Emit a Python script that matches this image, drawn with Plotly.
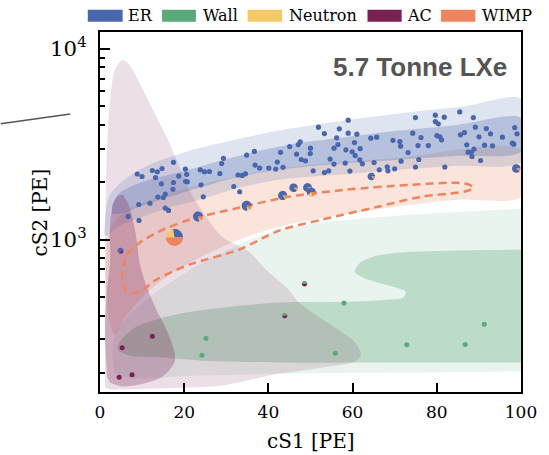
import math
import plotly.graph_objects as go

# ---------------- data ----------------
components = ["ER", "Wall", "Neutron", "AC", "WIMP"]
comp_colors = ["#4a67ad", "#5aa97a", "#f4c966", "#7a1f54", "#ee855e"]

# ER-like events
er_s1 = [6.67, 9.27, 9.20, 11.86, 8.84, 9.98, 12.43, 13.63, 14.74, 13.18, 14.58, 17.45, 17.33, 17.45,
         18.70, 20.28, 20.59, 20.35, 20.75, 15.50, 15.02, 13.75, 15.50, 16.27, 23.82, 24.83, 26.01,
         23.99, 24.53, 28.47, 28.89, 29.32, 31.77, 33.18, 32.78, 33.77, 34.55, 34.83, 36.67, 36.84,
         37.92, 40.09, 41.75, 42.12, 42.88, 43.47, 45.05, 46.70, 47.10, 47.57, 47.81, 48.82, 50.0,
         49.93, 50.64, 51.89, 53.30, 53.30, 54.32, 54.65, 55.59, 55.59, 56.20, 56.53, 56.84, 58.25,
         58.42, 58.96, 58.96, 59.36, 59.91, 60.45, 60.61, 61.01, 61.72, 61.79, 62.33, 64.32, 65.09,
         65.73, 66.34, 68.23, 68.40, 69.58, 69.98, 71.23, 71.39, 71.53, 73.18, 74.29, 74.93, 74.93,
         75.54, 75.71, 76.25, 77.99, 79.65, 79.65, 80.02, 80.35, 80.73, 81.13, 81.77, 81.91, 85.45,
         85.61, 86.56, 87.10, 87.43, 88.21, 88.37, 88.84, 88.68, 89.15, 90.02, 90.40, 91.34, 91.75,
         92.76, 93.23, 95.59, 97.95, 98.28, 98.51, 99.06]
er_s2 = [1324, 1262, 1530, 1553, 2211, 2145, 2306, 2270, 2362, 2117, 1965, 2546, 1838, 1995,
         2156, 2345, 2203, 2024, 2012, 1735, 1665, 1673, 1466, 1424, 2326, 2270, 2279,
         1941, 1679, 2224, 2506, 2672, 1901, 1784, 2184, 2174, 2216, 2777, 2902, 2461,
         2376, 2376, 2345, 2552, 2871, 2397, 3079, 2810, 3155, 3260, 2633, 2592, 3020,
         2830, 2298, 3892, 3602, 2251, 2298, 2646, 2491, 3020, 3420, 3155, 3813, 2521,
         2960, 4234, 3619, 2289, 2888, 3232, 2763, 3576, 2623, 3006, 2500, 3408, 2540,
         3449, 2326, 2411, 2298, 3319, 2354, 3271, 3094, 2582, 2865, 3619, 4368, 2402,
         3116, 2633, 3433, 3116, 4497, 4163, 3517, 4049, 3462, 3339, 4389, 2402, 4679,
         3546, 3646, 3144, 2878, 2878, 2731, 2985, 4368, 3892, 3462, 2602, 3132, 3826,
         3589, 3105, 3449, 3209, 3170, 3873, 3589]

# wall-like events
wall_s1 = [25.17, 24.22, 57.95, 55.90, 72.88, 86.72, 91.27]
wall_s2 = [303, 248, 466, 254, 281, 282, 360]

# AC-like events
ac_s1 = [5.26, 12.43, 4.55, 7.62]
ac_s2 = [271, 312, 190, 196]

# mixed events (pie charts): posterior fractions ER, Wall, Neutron, AC, WIMP
pie_s1 = [17.69, 23.28, 34.83, 43.40, 45.99, 49.29, 50.17, 64.46, 98.89, 4.88, 43.87, 48.58]
pie_s2 = [1028, 1324, 1507, 1706, 1872, 1878, 1777, 2145, 2362, 876, 400, 588]
pie_er      = [0.28, 0.80, 0.78, 0.85, 0.90, 0.82, 0.62, 0.88, 0.88, 0.72, 0.00, 0.00]
pie_wall    = [0.00, 0.00, 0.00, 0.00, 0.00, 0.00, 0.00, 0.00, 0.00, 0.00, 0.55, 0.50]
pie_neutron = [0.22, 0.06, 0.08, 0.05, 0.03, 0.08, 0.18, 0.02, 0.00, 0.00, 0.00, 0.00]
pie_ac      = [0.00, 0.00, 0.00, 0.00, 0.00, 0.00, 0.00, 0.00, 0.00, 0.28, 0.45, 0.50]
pie_wimp    = [0.50, 0.14, 0.14, 0.10, 0.07, 0.10, 0.20, 0.10, 0.12, 0.00, 0.00, 0.00]

# model contours (cS1, cS2)
er_2s_s1 = [0.94, 1.42, 2.36, 5.42, 9.43, 13.44, 21.23, 33.02, 44.81, 58.96, 74.06, 87.26, 100, 100,
            84.91, 70.75, 56.60, 42.45, 33.02, 23.58, 16.51, 9.43, 4.72, 1.89]
er_2s_s2 = [1062, 1436, 1720, 2036, 2326, 2561, 2924, 3379, 3813, 4249, 4679, 5030, 5472, 2561,
            2440, 2326, 2189, 2062, 1872, 1620, 1471, 1304, 1184, 1049]
er_1s_s1 = [2.83, 4.72, 7.78, 11.79, 16.51, 23.58, 33.02, 44.81, 58.96, 70.75, 84.91, 100, 100,
            84.91, 70.75, 56.60, 42.45, 33.02, 23.58, 16.51, 9.43, 4.72, 2.83]
er_1s_s2 = [1525, 1762, 1918, 2062, 2189, 2411, 2754, 3144, 3462, 3721, 4000, 4352, 2888,
            2754, 2623, 2500, 2326, 2138, 1872, 1679, 1489, 1368, 1368]
wimp_2s_s1 = [1.65, 2.83, 5.90, 11.79, 23.58, 42.45, 70.75, 100, 100, 84.91, 73.82, 58.96, 42.45,
              33.02, 23.58, 16.51, 10.61, 5.90, 3.54, 2.12, 1.42, 1.42]
wimp_2s_s2 = [942, 1198, 1402, 1620, 1941, 2354, 2688, 2960, 1679, 1620, 1525, 1368, 1170,
              1000, 805, 656, 515, 390, 318, 381, 547, 740]
wimp_1s_s1 = [5.4, 6.4, 9.4, 13.4, 21.2, 33.0, 44.8, 58.3, 73.8, 84.9, 87.7, 88.7, 87.3, 84.9,
              76.2, 66.0, 52.6, 42.5, 33.0, 21.2, 13.4, 9.4, 6.6, 5.4, 5.4]
wimp_1s_s2 = [697, 834, 964, 1088, 1273, 1471, 1679, 1827, 1941, 1988, 1941, 1872, 1805, 1762,
              1679, 1489, 1273, 1115, 886, 740, 618, 534, 528, 581, 697]
wall_2s_s1 = [100, 73.82, 54.25, 42.45, 33.02, 23.58, 14.15, 7.08, 3.54, 3.54, 7.08, 23.58, 47.17,
              70.75, 100]
wall_2s_s2 = [1453, 1352, 1242, 1128, 942, 740, 547, 405, 318, 204, 189, 194, 199, 201, 204]
wall_1s_s1 = [100, 82.55, 70.75, 64.86, 61.79, 60.61, 60.61, 63.68, 69.58, 72.64, 71.93, 68.40,
              58.25, 42.45, 23.58, 14.86, 8.25, 4.72, 4.25, 7.08, 14.86, 23.58, 42.45, 70.75, 100]
wall_1s_s2 = [886, 876, 855, 815, 758, 697, 672, 618, 567, 534, 497, 485, 473, 468, 425, 390, 346,
              292, 265, 247, 241, 233, 227, 227, 227]
ac_2s_s1 = [1.2, 1.2, 1.65, 2.4, 3.5, 4.7, 5.4, 6.6, 7.8, 9.4, 10.6, 13.4, 15.8, 18.2, 21.2, 25.2,
            29.0, 35.4, 39.4, 44.8, 47.2, 51.9, 56.6, 60.6, 62.0, 60.6, 54.2, 46.5, 42.5, 29.0, 13.4, 2.4]
ac_2s_s2 = [168, 886, 2960, 5408, 7766, 8550, 8758, 8447, 7766, 6637, 5884, 4405, 3462, 2623, 1827,
            1320, 1037, 865, 697, 547, 468, 395, 338, 289, 250, 230, 216, 204, 199, 172, 166, 164]
ac_1s_s1 = [1.65, 1.2, 1.65, 2.4, 2.4, 3.1, 4.0, 5.2, 6.6, 7.8, 8.7, 9.4, 11.1, 13.4, 15.8, 17.7,
            17.7, 14.9, 9.4, 5.4, 2.4]
ac_1s_s2 = [192, 338, 547, 758, 1198, 1525, 1679, 1720, 1562, 1273, 1000, 758, 567, 430, 338, 256,
            227, 192, 174, 170, 178]

x_ticks = [0, 20, 40, 60, 80, 100]
x_title = "cS1 [PE]"
y_title = "cS2 [PE]"
panel_label = "5.7 Tonne LXe"

# ---------------- styling ----------------
SERIF = "DejaVu Serif"
pie_radius_px = [8.5, 5, 5, 4.6, 4.3, 4.4, 4.6, 3.8, 4.3, 3.0, 2.7, 2.7]


def rgba(hexcol, a):
    h = hexcol.lstrip("#")
    r, g, b = int(h[0:2], 16), int(h[2:4], 16), int(h[4:6], 16)
    return f"rgba({r},{g},{b},{a})"


C = dict(zip(components, comp_colors))

fig = go.Figure()


def add_region(xs, ys, color, alpha):
    fig.add_trace(go.Scatter(
        x=xs, y=ys, mode="lines", fill="toself", fillcolor=rgba(color, alpha),
        line=dict(width=0, shape="spline", smoothing=0.8), hoverinfo="skip", showlegend=False))


add_region(wimp_2s_s1, wimp_2s_s2, C["WIMP"], 0.22)
add_region(wall_2s_s1, wall_2s_s2, C["Wall"], 0.13)
add_region(wall_1s_s1, wall_1s_s2, C["Wall"], 0.32)
add_region(ac_2s_s1, ac_2s_s2, C["AC"], 0.14)
add_region(er_2s_s1, er_2s_s2, C["ER"], 0.18)
add_region(er_1s_s1, er_1s_s2, C["ER"], 0.28)
add_region(ac_1s_s1, ac_1s_s2, C["AC"], 0.28)

fig.add_trace(go.Scatter(
    x=wimp_1s_s1, y=wimp_1s_s2, mode="lines",
    line=dict(color=C["WIMP"], width=2.5, dash="8px,5px", shape="spline", smoothing=0.8),
    hoverinfo="skip", showlegend=False))

fig.add_trace(go.Scatter(x=er_s1, y=er_s2, mode="markers",
                         marker=dict(color=C["ER"], size=5.2, line=dict(width=0)),
                         showlegend=False))
fig.add_trace(go.Scatter(x=wall_s1, y=wall_s2, mode="markers",
                         marker=dict(color=C["Wall"], size=5, line=dict(width=0)),
                         showlegend=False))
fig.add_trace(go.Scatter(x=ac_s1, y=ac_s2, mode="markers",
                         marker=dict(color=C["AC"], size=5, line=dict(width=0)),
                         showlegend=False))

shapes = []


def wedge_path(r, a0, a1):
    n = max(2, int(abs(a1 - a0) / (math.pi / 24)) + 1)
    parts = ["M0,0"]
    for i in range(n + 1):
        a = a0 + (a1 - a0) * i / n
        parts.append(f"L{r * math.cos(a):.2f},{r * math.sin(a):.2f}")
    parts.append("Z")
    return "".join(parts)


fracs = list(zip(pie_er, pie_wall, pie_neutron, pie_ac, pie_wimp))
for xi, yi, fr, r in zip(pie_s1, pie_s2, fracs, pie_radius_px):
    tot = sum(fr)
    a = 0.0
    for f, col in zip(fr, comp_colors):
        if f <= 0:
            continue
        a1 = a + 2 * math.pi * f / tot
        shapes.append(dict(type="path", xref="x", yref="y", xsizemode="pixel", ysizemode="pixel",
                           xanchor=xi, yanchor=yi, path=wedge_path(r, a, a1),
                           fillcolor=col, line=dict(width=0), layer="above"))
        a = a1

# legend (manual, matplotlib-like patches)
leg_patch_x = [(-0.029, 0.0538), (0.1474, 0.2278), (0.3505, 0.4325), (0.6354, 0.7165), (0.8101, 0.8915)]
leg_text_x = [0.0613, 0.2406, 0.4434, 0.7241, 0.9033]
annotations = []
for name, col, (px0, px1), tx in zip(components, comp_colors, leg_patch_x, leg_text_x):
    shapes.append(dict(type="rect", xref="paper", yref="paper", x0=px0, x1=px1, y0=1.0283, y1=1.0616,
                       fillcolor=col, line=dict(width=0)))
    annotations.append(dict(xref="paper", yref="paper", x=tx, y=1.0449, xanchor="left", yanchor="middle",
                            text=name, showarrow=False, font=dict(family=SERIF, size=16, color="black")))

annotations.append(dict(xref="paper", yref="paper", x=0.972, y=0.903, xanchor="right", yanchor="middle",
                        text=f"<b>{panel_label}</b>", showarrow=False,
                        font=dict(family="Liberation Sans", size=26, color="#555555")))

# axis titles
annotations.append(dict(xref="paper", yref="paper", x=0.5, y=-0.136, xanchor="center", yanchor="middle",
                        text=x_title, showarrow=False, font=dict(family=SERIF, size=20, color="black")))
annotations.append(dict(xref="paper", yref="paper", x=-0.1415, y=0.5, xanchor="center", yanchor="middle",
                        text=y_title, textangle=-90, showarrow=False,
                        font=dict(family=SERIF, size=20, color="black")))

shapes.append(dict(type="line", xref="paper", yref="paper", x0=-0.2358, y0=0.745, x1=-0.0708, y1=0.772,
                   line=dict(color="#555555", width=1.5)))

fig.update_layout(
    width=549, height=455,
    margin=dict(l=100, r=25, t=32, b=63),
    plot_bgcolor="white", paper_bgcolor="white",
    showlegend=False,
    shapes=shapes, annotations=annotations,
    xaxis=dict(range=[0, 100], tickvals=x_ticks, ticks="inside", ticklen=9, tickwidth=2,
               tickcolor="black", showline=True, linewidth=2, linecolor="black", mirror=True,
               showgrid=False, zeroline=False, ticklabelstandoff=4,
               tickfont=dict(family=SERIF, size=17, color="black")),
    yaxis=dict(type="log", range=[2.2016, 4.089], dtick=1, exponentformat="power",
               ticks="inside", ticklen=10, tickwidth=2, tickcolor="black",
               minor=dict(ticks="inside", ticklen=5, tickwidth=1.5, tickcolor="black", dtick="D1", showgrid=False),
               showline=True, linewidth=2, linecolor="black", mirror=True,
               showgrid=False, zeroline=False, ticklabelstandoff=8,
               tickfont=dict(family=SERIF, size=17, color="black")),
)

# remove the browser's default 8px page margin so the figure sits at the window origin
fig.write_html("out.html", config={"displayModeBar": False},
               post_script="document.body.style.margin='0px';")
